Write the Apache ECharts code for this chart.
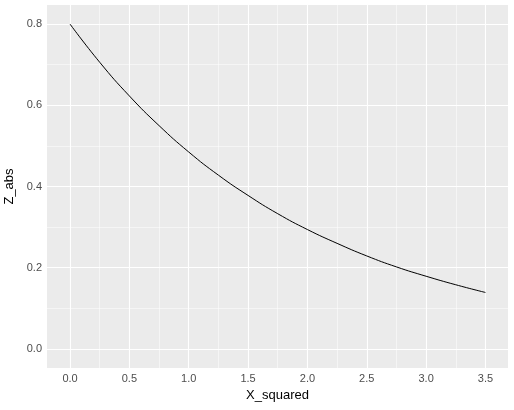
<!DOCTYPE html>
<html><head><meta charset="utf-8">
<script src="https://cdn.jsdelivr.net/npm/echarts@6/dist/echarts.min.js"></script>
<style>html,body{margin:0;padding:0;background:#fff}#c{width:514px;height:410px}</style>
</head><body><div id="c"></div>
<script>
const xVals = [0,0.25,0.5,0.75,1,1.25,1.5,1.75,2,2.25,2.5,2.75,3,3.25,3.5];
const zVals = [0.8,0.706,0.623,0.550,0.485,0.428,0.378,0.333,0.294,0.260,0.229,0.202,0.179,0.158,0.139];
const xTicks = [0,0.5,1,1.5,2,2.5,3,3.5];
const yTicks = [0,0.2,0.4,0.6,0.8];
const xMinor = [0.25,0.75,1.25,1.75,2.25,2.75,3.25];
const yMinor = [0.1,0.3,0.5,0.7];

const lines = [];
xTicks.forEach(v=>lines.push({xAxis:v,lineStyle:{width:1.1}}));
xMinor.forEach(v=>lines.push({xAxis:v,lineStyle:{width:0.5}}));
yTicks.forEach(v=>lines.push({yAxis:v,lineStyle:{width:1.1}}));
yMinor.forEach(v=>lines.push({yAxis:v,lineStyle:{width:0.5}}));

const chart = echarts.init(document.getElementById('c'));
chart.setOption({
  animation:false,
  grid:{left:47,right:6,top:5,bottom:42,show:true,backgroundColor:'#EBEBEB',borderWidth:0,containLabel:false,outerBoundsMode:'none'},
  xAxis:{type:'value',min:-0.194,max:3.69,
    name:'X_squared',nameLocation:'middle',nameGap:19,nameTextStyle:{color:'#000',fontSize:13,fontFamily:'Liberation Sans'},
    axisLine:{show:false},splitLine:{show:false},
    axisTick:{show:true,customValues:xTicks,length:3,lineStyle:{color:'#333'}},
    axisLabel:{customValues:xTicks,color:'#4D4D4D',fontSize:11,margin:5,fontFamily:'Liberation Sans',formatter:v=>v.toFixed(1)}},
  yAxis:{type:'value',min:-0.047,max:0.847,
    name:'Z_abs',nameLocation:'middle',nameGap:30,nameTextStyle:{color:'#000',fontSize:13,fontFamily:'Liberation Sans'},
    axisLine:{show:false},splitLine:{show:false},
    axisTick:{show:true,customValues:yTicks,length:3,lineStyle:{color:'#333'}},
    axisLabel:{customValues:yTicks,color:'#4D4D4D',fontSize:11,margin:5,fontFamily:'Liberation Sans',formatter:v=>v.toFixed(1)}},
  series:[{type:'line',data:xVals.map((x,i)=>[x,zVals[i]]),smooth:true,showSymbol:false,
    lineStyle:{color:'#000',width:1},z:5,
    markLine:{silent:true,symbol:'none',label:{show:false},animation:false,
      lineStyle:{color:'#fff',type:'solid'},data:lines,z:1}}]
});
</script></body></html>
